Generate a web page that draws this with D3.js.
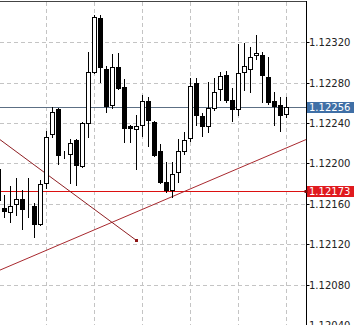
<!DOCTYPE html>
<html>
<head>
<meta charset="utf-8">
<script src="https://cdn.jsdelivr.net/npm/d3@7"></script>
<style>
  body { margin: 0; background: #fff; }
  #chart text { font-family: "DejaVu Sans", sans-serif; font-size: 10px; }
</style>
</head>
<body>
<div id="chart"></div>
<script>
// candles EURUSD - one per bar, leftmost one is cut by the edge
var opens  = [1.12194,1.12156,1.12152,1.12160,1.12165,1.12156,1.12158,1.12140,1.12181,1.12229,
              1.12254,1.12208,1.12209,1.12223,1.12197,1.12240,1.12291,1.12344,1.12294,1.12258,
              1.12296,1.12276,1.12237,1.12234,1.12238,1.12262,1.12241,1.12212,1.12182,1.12174,
              1.12191,1.12212,1.12225,1.12280,1.12247,1.12237,1.12255,1.12274,1.12288,1.12263,
              1.12254,1.12291,1.12294,1.12307,1.12307,1.12286,1.12262,1.12258,1.12249];
var highs  = [1.12199,1.12169,1.12178,1.12186,1.12174,1.12186,1.12161,1.12184,1.12232,1.12256,
              1.12255,1.12212,1.12224,1.12224,1.12241,1.12310,1.12347,1.12347,1.12297,1.12308,
              1.12309,1.12284,1.12238,1.12248,1.12268,1.12266,1.12242,1.12219,1.12201,1.12201,
              1.12224,1.12231,1.12285,1.12285,1.12250,1.12281,1.12285,1.12291,1.12292,1.12275,
              1.12318,1.12319,1.12315,1.12327,1.12310,1.12305,1.12271,1.12266,1.12266];
var lows   = [1.12154,1.12147,1.12142,1.12149,1.12135,1.12147,1.12127,1.12139,1.12176,1.12226,
              1.12199,1.12205,1.12181,1.12179,1.12196,1.12226,1.12290,1.12281,1.12251,1.12255,
              1.12274,1.12221,1.12221,1.12194,1.12227,1.12217,1.12207,1.12181,1.12172,1.12167,
              1.12182,1.12209,1.12222,1.12238,1.12227,1.12231,1.12253,1.12263,1.12261,1.12242,
              1.12248,1.12273,1.12271,1.12303,1.12261,1.12259,1.12238,1.12232,1.12246];
var closes = [1.12164,1.12153,1.12158,1.12165,1.12155,1.12156,1.12140,1.12180,1.12226,1.12251,
              1.12208,1.12208,1.12220,1.12198,1.12240,1.12291,1.12345,1.12296,1.12257,1.12296,
              1.12275,1.12235,1.12235,1.12237,1.12262,1.12243,1.12208,1.12182,1.12174,1.12190,
              1.12212,1.12223,1.12277,1.12248,1.12237,1.12255,1.12271,1.12287,1.12263,1.12254,
              1.12290,1.12297,1.12305,1.12309,1.12288,1.12261,1.12257,1.12248,1.12256];

// price scale labels
var priceTicks = [1.12320, 1.12280, 1.12240, 1.12200, 1.12160, 1.12120, 1.12080, 1.12040];
// vertical grid every 8 bars
var gridBars = [8, 16, 24, 32, 40, 48];

// objects drawn on the chart
var bidPrice = 1.12256;
var levelPrice = 1.12173;
var trendUp = [{i: 1, p: 1.12096}, {i: 29, p: 1.12167}];
var trendDown = [{i: 0, p: 1.12225}, {i: 23, p: 1.12124}];

var W = 354, H = 325;
var plotR = 306.5;

var svg = d3.select('#chart')
.append('svg')
.attr('width', W)
.attr('height', H)
;

var x = d3.scaleLinear().domain([0, 48]).range([-2, 286]);
var y = d3.scaleLinear().domain([1.12040, 1.12320]).range([324.9, 42.3]);

var candles = opens.map(function(o, i){
    return {i: i, o: o, h: highs[i], l: lows[i], c: closes[i]};
});

svg.append('clipPath')
.attr('id', 'plotclip')
.append('rect')
.attr('x', 0).attr('y', 2)
.attr('width', plotR).attr('height', H)
;

var plot = svg.append('g').attr('clip-path', 'url(#plotclip)');

// grid
plot.selectAll('line.hgrid')
.data(priceTicks)
.enter()
.append('line')
.attr('class', 'hgrid')
.attr('x1', 0).attr('x2', plotR)
.attr('y1', function(d){ return Math.round(y(d)) + 0.5; })
.attr('y2', function(d){ return Math.round(y(d)) + 0.5; })
.attr('stroke', '#c4c4c4')
.attr('stroke-dasharray', '4,3')
;

plot.selectAll('line.vgrid')
.data(gridBars)
.enter()
.append('line')
.attr('class', 'vgrid')
.attr('x1', function(d){ return Math.round(x(d)) + 0.5; })
.attr('x2', function(d){ return Math.round(x(d)) + 0.5; })
.attr('y1', 2).attr('y2', H)
.attr('stroke', '#c4c4c4')
.attr('stroke-dasharray', '4,3')
;

// bid line
plot.append('line')
.attr('x1', 0).attr('x2', plotR)
.attr('y1', Math.round(y(bidPrice)) + 0.5)
.attr('y2', Math.round(y(bidPrice)) + 0.5)
.attr('stroke', '#5c6f84')
;

// horizontal level
plot.append('line')
.attr('x1', 0).attr('x2', plotR)
.attr('y1', Math.round(y(levelPrice)) + 0.5)
.attr('y2', Math.round(y(levelPrice)) + 0.5)
.attr('stroke', '#dc1010')
;

// trendlines - extend up one over whole chart
function extend(pts, i){
    var k = (pts[1].p - pts[0].p) / (pts[1].i - pts[0].i);
    return pts[0].p + k * (i - pts[0].i);
}

plot.append('line')
.attr('x1', x(-2)).attr('y1', y(extend(trendUp, -2)))
.attr('x2', x(54)).attr('y2', y(extend(trendUp, 54)))
.attr('stroke', '#a8282e')
;

plot.append('line')
.attr('x1', x(-2)).attr('y1', y(extend(trendDown, -2)))
.attr('x2', x(trendDown[1].i)).attr('y2', y(trendDown[1].p))
.attr('stroke', '#8e1e22')
;

plot.append('rect')
.attr('x', Math.round(x(trendDown[1].i)) - 1)
.attr('y', Math.round(y(trendDown[1].p)) - 1)
.attr('width', 3).attr('height', 3)
.attr('fill', '#8e1414')
;

// candles
var g = plot.selectAll('g.candle')
.data(candles)
.enter()
.append('g')
.attr('class', 'candle')
.attr('shape-rendering', 'crispEdges')
;

g.append('line')
.attr('x1', function(d){ return Math.round(x(d.i)) + 0.5; })
.attr('x2', function(d){ return Math.round(x(d.i)) + 0.5; })
.attr('y1', function(d){ return Math.round(y(d.h)); })
.attr('y2', function(d){ return Math.round(y(d.l)) + 1; })
.attr('stroke', '#000')
;

g.append('rect')
.attr('x', function(d){ return Math.round(x(d.i)) - 1.5; })
.attr('y', function(d){ return Math.round(y(Math.max(d.o, d.c))) + 0.5; })
.attr('width', 4)
.attr('height', function(d){ return Math.max(0, Math.round(y(Math.min(d.o, d.c))) - Math.round(y(Math.max(d.o, d.c)))); })
.attr('fill', function(d){ return d.c > d.o ? '#fff' : '#000'; })
.attr('stroke', '#000')
;

// frame
svg.append('line')
.attr('x1', 0).attr('x2', plotR)
.attr('y1', 1.5).attr('y2', 1.5)
.attr('stroke', '#444')
;

svg.append('line')
.attr('x1', plotR).attr('x2', plotR)
.attr('y1', 1).attr('y2', H)
.attr('stroke', '#000')
;

// price axis
var ax = svg.append('g');

ax.selectAll('line.tick')
.data(priceTicks)
.enter()
.append('line')
.attr('class', 'tick')
.attr('x1', plotR).attr('x2', plotR + 3)
.attr('y1', function(d){ return Math.round(y(d)) + 0.5; })
.attr('y2', function(d){ return Math.round(y(d)) + 0.5; })
.attr('stroke', '#000')
;

ax.selectAll('text.tick')
.data(priceTicks)
.enter()
.append('text')
.attr('class', 'tick')
.attr('x', 309)
.attr('y', function(d){ return Math.round(y(d)) + 4; })
.attr('fill', '#222')
.text(function(d){ return d.toFixed(5); })
;

// price boxes
function priceBox(p, col){
    var yy = Math.round(y(p));
    ax.append('rect')
    .attr('x', 307).attr('y', yy - 5)
    .attr('width', W - 307).attr('height', 11)
    .attr('fill', col)
    ;
    ax.append('text')
    .attr('x', 309)
    .attr('y', yy + 4)
    .attr('fill', '#fff')
    .text(p.toFixed(5))
    ;
}

priceBox(bidPrice, '#3f6fa6');
priceBox(levelPrice, '#e01a1e');

svg.append('rect')
.attr('x', plotR - 2).attr('y', Math.round(y(levelPrice)) - 1)
.attr('width', 3).attr('height', 3)
.attr('fill', '#7a0c0c')
;
</script>
</body>
</html>
